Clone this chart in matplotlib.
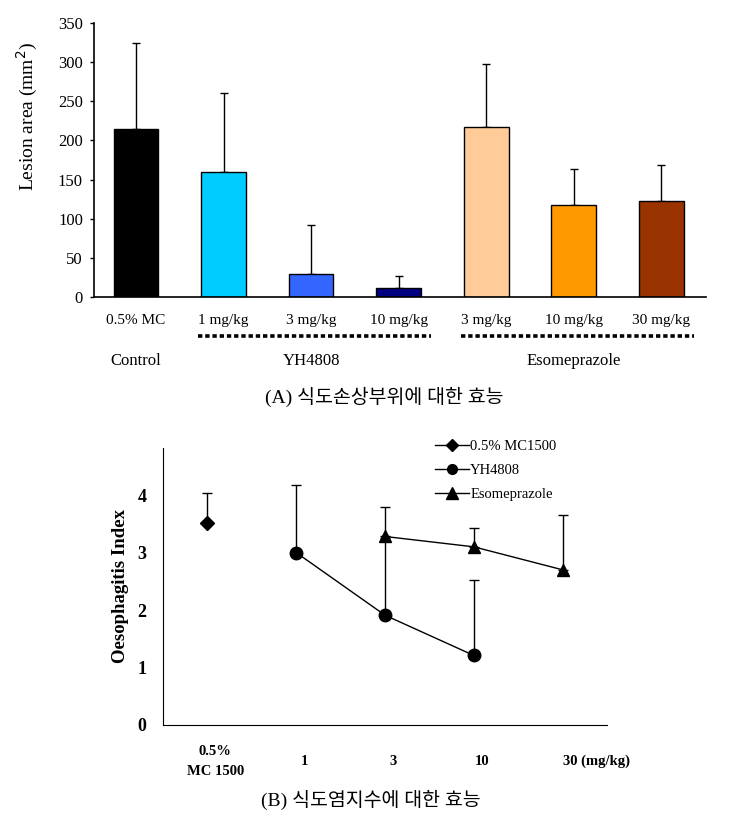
import numpy as np
import matplotlib
matplotlib.use("Agg")
import matplotlib.pyplot as plt
import matplotlib.transforms as mtransforms
from matplotlib.lines import Line2D

plt.rcParams["font.family"] = ["Liberation Serif", "Noto Sans CJK KR", "DejaVu Sans"]

# (A) lesion area
bar_labels = ["0.5% MC", "1 mg/kg", "3 mg/kg", "10 mg/kg", "3 mg/kg", "10 mg/kg", "30 mg/kg"]
lesion_mean = [215, 160, 29, 12, 217, 117, 123]
lesion_sd = [110, 100, 63, 15, 81, 47, 45]
bar_colors = ["#000000", "#00CCFF", "#3366FF", "#000080", "#FFCC99", "#FF9900", "#993300"]
groups = [("Control", 0, 0), ("YH4808", 1, 3), ("Esomeprazole", 4, 6)]

# (B) oesophagitis index
dose_labels = ["0.5%\nMC 1500", "1", "3", "10", "30 (mg/kg)"]
mc_x = [0]
mc_y = [3.51]
mc_err = [0.53]
yh_x = [1, 2, 3]
yh_y = [3.0, 1.91, 1.21]
yh_err = [1.17, 1.35, 1.31]
eso_x = [2, 3, 4]
eso_y = [3.28, 3.10, 2.70]
eso_err = [0.52, 0.32, 0.95]

fig = plt.figure(figsize=(7.47, 8.31), dpi=100)

# ---- panel A ----
ax1 = fig.add_axes([0.1258, 0.6426, 0.8192, 0.3297])
x = np.arange(len(lesion_mean))
ax1.bar(x, lesion_mean, width=0.51, color=bar_colors, edgecolor="black", linewidth=1.0, zorder=2)
ax1.errorbar(x, lesion_mean, yerr=[np.zeros(len(lesion_sd)), lesion_sd], fmt="none",
             ecolor="black", elinewidth=1.0, capsize=2.6, capthick=1.0, zorder=1)
ax1.set_xlim(-0.48, 6.51)
ax1.set_ylim(0, 350)
ax1.set_yticks(np.arange(0, 351, 50))
ax1.set_xticks(x)
ax1.set_xticklabels(bar_labels, fontsize=11)
ax1.tick_params(axis="x", length=0, pad=12)
ax1.tick_params(axis="y", length=3, width=1, labelsize=12, direction="out", pad=5)
for s in ["top", "right"]:
    ax1.spines[s].set_visible(False)
ax1.spines["left"].set_linewidth(1.2)
ax1.spines["bottom"].set_linewidth(1.2)
ax1.set_ylabel("Lesion area (mm$^2$)", fontsize=14)
ax1.yaxis.set_label_coords(-0.088, 0.66)

trans = mtransforms.blended_transform_factory(ax1.transData, ax1.transAxes)
for name, i0, i1 in groups:
    if i1 > i0:
        ax1.add_line(Line2D([i0 - 0.29, i1 + 0.37], [-0.142, -0.142], transform=trans,
                            color="black", linestyle=(0, (1.2, 0.8)), linewidth=2.6,
                            clip_on=False))
    ax1.text((i0 + i1) / 2, -0.232, name, transform=trans, ha="center", va="center",
             fontsize=12)

fig.text(0.515, 0.522, "(A) 식도손상부위에 대한 효능", ha="center", va="center", fontsize=14)

# ---- panel B ----
ax2 = fig.add_axes([0.2182, 0.1276, 0.5944, 0.3333])
kw = dict(color="black", capsize=3.5, elinewidth=1, linewidth=1)
ax2.errorbar(mc_x, mc_y, yerr=[[0] * len(mc_err), mc_err], fmt="D-", markersize=7, **kw)
ax2.errorbar(yh_x, yh_y, yerr=[[0] * len(yh_err), yh_err], fmt="o-", markersize=9, **kw)
ax2.errorbar(eso_x, eso_y, yerr=[[0] * len(eso_err), eso_err], fmt="^-", markersize=9, **kw)
ax2.set_xlim(-0.5, 4.5)
ax2.set_ylim(0, 4.82)
ax2.set_yticks(range(0, 5))
ax2.set_xticks(range(len(dose_labels)))
ax2.set_xticklabels(dose_labels, fontsize=10.5, fontweight="bold", linespacing=1.7, va="center")
ax2.tick_params(axis="x", length=0, pad=26)
ax2.tick_params(axis="y", length=0, pad=12)
for lab in ax2.get_yticklabels():
    lab.set_fontweight("bold")
    lab.set_fontsize(13)
offset = mtransforms.ScaledTranslation(8 / 100, 0, fig.dpi_scale_trans)
for lab in ax2.get_xticklabels()[:-1]:
    lab.set_transform(lab.get_transform() + offset)
ax2.get_xticklabels()[-1].set_ha("left")
for s in ["top", "right"]:
    ax2.spines[s].set_visible(False)
ax2.set_ylabel("Oesophagitis Index", fontsize=13.5, fontweight="bold", labelpad=6)

handles = [
    Line2D([], [], color="black", marker="D", markersize=6, linewidth=1),
    Line2D([], [], color="black", marker="o", markersize=7, linewidth=1),
    Line2D([], [], color="black", marker="^", markersize=8, linewidth=1),
]
ax2.legend(handles, ["0.5% MC1500", "YH4808", "Esomeprazole"], loc="upper left",
           bbox_to_anchor=(0.6, 1.05), frameon=False, fontsize=10.5,
           handlelength=2.3, handletextpad=0.1, labelspacing=0.75, borderaxespad=0)

fig.text(0.497, 0.037, "(B) 식도염지수에 대한 효능", ha="center", va="center", fontsize=14)

fig.savefig("out.png", dpi=100)
